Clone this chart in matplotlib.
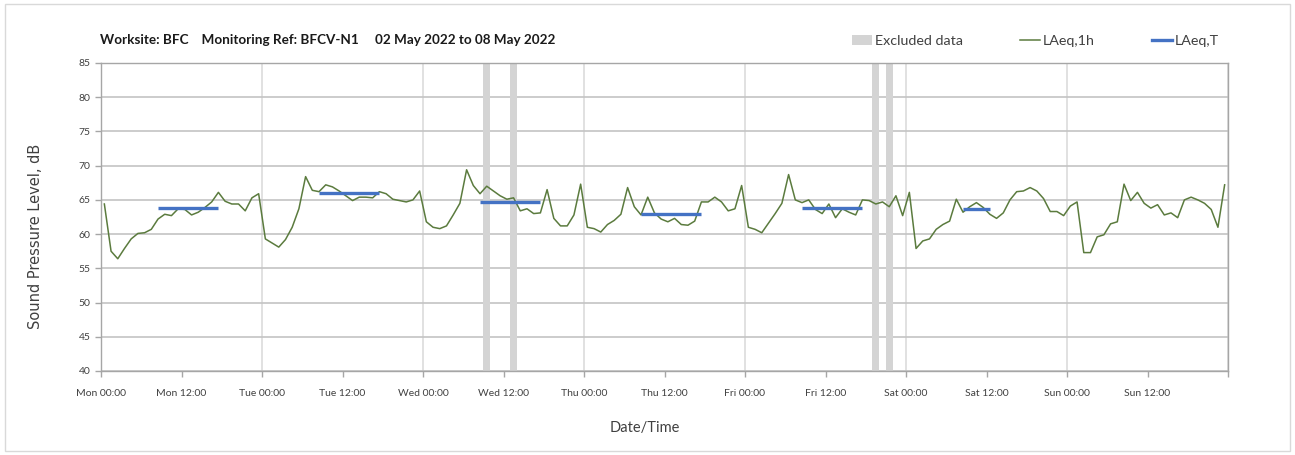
import numpy as np
import matplotlib
matplotlib.use('Agg')
import matplotlib.pyplot as plt
from matplotlib.lines import Line2D
from matplotlib.patches import Patch, Rectangle

# ---- data ----
days = ['Mon', 'Tue', 'Wed', 'Thu', 'Fri', 'Sat', 'Sun']
day_labels = [f'{d} 00:00' for d in days]
noon_labels = [f'{d} 12:00' for d in days]

laeq_1h = [
    # Mon
    64.4, 57.5, 56.4, 57.9, 59.3, 60.1, 60.2, 60.7, 62.2, 62.9, 62.7, 63.7,
    63.6, 62.8, 63.2, 63.9, 64.7, 66.1, 64.8, 64.4, 64.4, 63.4, 65.3, 65.9,
    # Tue
    59.3, 58.7, 58.1, 59.2, 61.0, 63.7, 68.4, 66.4, 66.2, 67.2, 66.9, 66.3,
    65.6, 64.9, 65.4, 65.4, 65.3, 66.2, 65.9, 65.1, 64.9, 64.7, 65.0, 66.3,
    # Wed
    61.8, 61.0, 60.8, 61.2, 62.8, 64.5, 69.4, 67.1, 65.9, 67.0, 66.3, 65.6,
    65.1, 65.3, 63.4, 63.7, 63.0, 63.1, 66.5, 62.3, 61.2, 61.2, 62.8, 67.3,
    # Thu
    61.0, 60.8, 60.3, 61.4, 62.0, 62.9, 66.8, 64.0, 62.8, 65.4, 63.1, 62.2,
    61.8, 62.3, 61.4, 61.3, 61.9, 64.7, 64.7, 65.4, 64.7, 63.4, 63.7, 67.1,
    # Fri
    61.0, 60.7, 60.2, 61.6, 63.0, 64.5, 68.7, 65.0, 64.6, 65.0, 63.6, 63.0,
    64.4, 62.4, 63.7, 63.2, 62.8, 65.0, 64.9, 64.4, 64.7, 64.0, 65.6, 62.7,
    # Sat
    66.1, 57.9, 59.0, 59.3, 60.7, 61.4, 61.9, 65.1, 63.2, 64.0, 64.6, 63.9,
    62.9, 62.3, 63.1, 65.0, 66.2, 66.3, 66.8, 66.3, 65.2, 63.3, 63.3, 62.7,
    # Sun
    64.1, 64.7, 57.3, 57.3, 59.6, 59.9, 61.5, 61.8, 67.3, 64.9, 66.1, 64.5,
    63.8, 64.3, 62.8, 63.1, 62.4, 65.0, 65.4, 65.0, 64.5, 63.6, 61.0, 67.2,
]

# hours since Mon 00:00
excluded_start = [57, 61, 115, 117]
excluded_end = [58, 62, 116, 118]

laeqT_start = [8, 32, 56, 80, 104, 128]
laeqT_end = [18, 42, 66, 90, 114, 133]
laeqT = [63.8, 66.0, 64.7, 62.9, 63.8, 63.7]

# ---- style ----
GREEN = '#5B7B3E'
BLUE = '#4472C4'
EXCL = '#D4D4D4'
FONT = 'Lato'

W, H = 1295, 455
fig = plt.figure(figsize=(W / 100, H / 100), dpi=100)
ax = fig.add_axes([101 / W, 1 - 371 / H, (1228 - 101) / W, (371 - 63) / H])

hours = np.arange(len(laeq_1h)) + 0.5

for s, e in zip(excluded_start, excluded_end):
    ax.axvspan(s, e, color=EXCL, lw=0, zorder=1)

ax.plot(hours, laeq_1h, color=GREEN, lw=1.1, zorder=3)

for s, e, v in zip(laeqT_start, laeqT_end, laeqT):
    ax.plot([s + 0.5, e - 0.5], [v, v], color=BLUE, lw=2.4, zorder=4,
            solid_capstyle='butt')

ax.set_xlim(0, 168)
ax.set_ylim(40, 85)
ax.set_yticks(np.arange(40, 86, 5))
ax.set_xticks(np.arange(0, 169, 24))
ax.set_xticklabels(day_labels + [''])
ax.set_xticks(np.arange(12, 168, 24), minor=True)
ax.set_xticklabels(noon_labels, minor=True)

ax.yaxis.grid(True, color='#C4C4C4', lw=1.2, zorder=0)
ax.xaxis.grid(True, which='major', color='#DCDCDC', lw=1.2, zorder=0)
ax.set_axisbelow(True)

for sp in ax.spines.values():
    sp.set_color('#A6A6A6')
    sp.set_linewidth(1.0)

ax.tick_params(axis='both', which='both', colors='#A6A6A6', labelcolor='#404040',
               labelsize=7.5, length=4, width=1.0)
ax.tick_params(axis='x', which='both', pad=9)
for lab in ax.get_xticklabels(which='both') + ax.get_yticklabels():
    lab.set_fontfamily(FONT)

fig.text(645 / W, 1 - 428 / H, 'Date/Time', fontsize=10.5, family=FONT,
         color='#404040', ha='center', va='center')
fig.text(36 / W, 1 - 236 / H, 'Sound Pressure Level, dB', fontsize=10.5,
         family='DejaVu Sans', color='#404040', rotation=90,
         ha='center', va='center')

fig.text(100 / W, 1 - 40 / H,
         'Worksite: BFC    Monitoring Ref: BFCV-N1     02 May 2022 to 08 May 2022',
         fontsize=9.7, fontweight='bold', family=FONT, color='#1a1a1a',
         va='center', ha='left')

handles = [Patch(facecolor=EXCL, edgecolor='none'),
           Line2D([], [], color=GREEN, lw=1.1),
           Line2D([], [], color=BLUE, lw=2.4)]
fig.legend(handles, ['Excluded data', 'LAeq,1h', 'LAeq,T'], ncol=3,
           loc='center right', bbox_to_anchor=(1232 / W, 1 - 41 / H),
           frameon=False, prop={'family': FONT, 'size': 10.3},
           handlelength=1.4, handletextpad=0.2, columnspacing=4.0,
           labelcolor='#404040')

fig.patches.append(Rectangle((5 / W, 4 / H), (W - 10) / W, (H - 8) / H,
                             transform=fig.transFigure, fill=False,
                             edgecolor='#D9D9D9', lw=1.0))

fig.savefig('out.png', dpi=100, facecolor='white')
